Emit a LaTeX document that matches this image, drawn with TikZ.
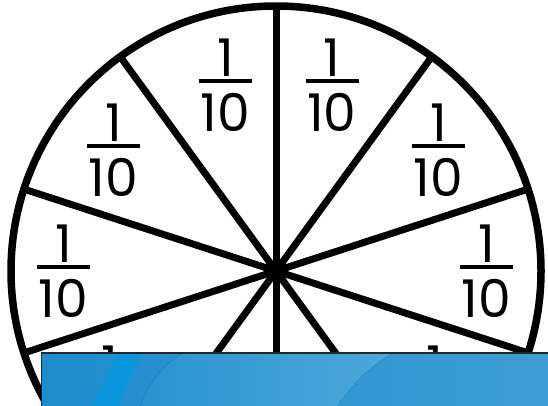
\documentclass[tikz,border=0pt]{standalone}
\usepackage{fontspec}
\newfontfamily\digitfont{Poppins}
\definecolor{blueA}{RGB}{29,140,205}
\definecolor{blueB}{RGB}{62,158,213}
\definecolor{blueL1}{RGB}{40,148,208}
\definecolor{blueL2}{RGB}{78,168,218}
\definecolor{blueS}{RGB}{10,150,220}
\definecolor{blueEdge}{RGB}{25,120,185}
\tikzset{
  num/.style={inner sep=0pt, font=\digitfont\fontsize{52}{60}\selectfont},
  rim/.style={line width=7.5pt},
  spoke/.style={line width=7pt},
}
\newcommand{\fracten}[3]{%
  \node[num] (#1-n) at (#2,#3-23) {1};
  \fill (#2-26.5,#3-2) rectangle (#2+26.5,#3+2);
  \node[num] (#1-d) at (#2,#3+31.5) {10};
}
\begin{document}
\begin{tikzpicture}[x=1pt,y=-1pt]
\useasboundingbox (0,0) rectangle (548,405);
\clip (0,0) rectangle (548,405);
\fill[white] (0,0) rectangle (548,405);
\coordinate (c) at (276,271);
% labels
\fracten{l1}{225.5}{81}
\fracten{l2}{332}{81}
\fracten{l3}{113.5}{146}
\fracten{l4}{438.5}{146}
\fracten{l5}{63.5}{267}
\fracten{l6}{486.5}{267}
\fracten{l7}{110}{388}
\fracten{l8}{435}{388}
% spokes
\foreach \a in {18,54,90,126,162,198,234,270,306,342}
  \draw[spoke] (c) -- ++(\a:265pt);
% rim
\draw[rim] (c) circle (265pt);
% blue panel
\shade[left color=blueA, right color=blueB] (41,353) rectangle (549,406);
\shade[left color=blueL1, right color=blueL2]
  (182,353) .. controls (160,368) and (148,385) .. (140,406)
  -- (337,406) .. controls (352,385) and (370,366) .. (393,353) -- cycle;
\draw[blueEdge, line width=0.8pt, opacity=0.6]
  (182,353) .. controls (160,368) and (148,385) .. (140,406);
\draw[blueEdge, line width=0.8pt, opacity=0.4]
  (337,406) .. controls (352,385) and (370,366) .. (393,353);
\fill[blueS] (117,354) -- (140,354) -- (118,406) -- (93,406) -- cycle;
\draw[line width=1.8pt, black!85] (41.5,406) -- (41.5,353) -- (549,353);
\end{tikzpicture}
\end{document}
